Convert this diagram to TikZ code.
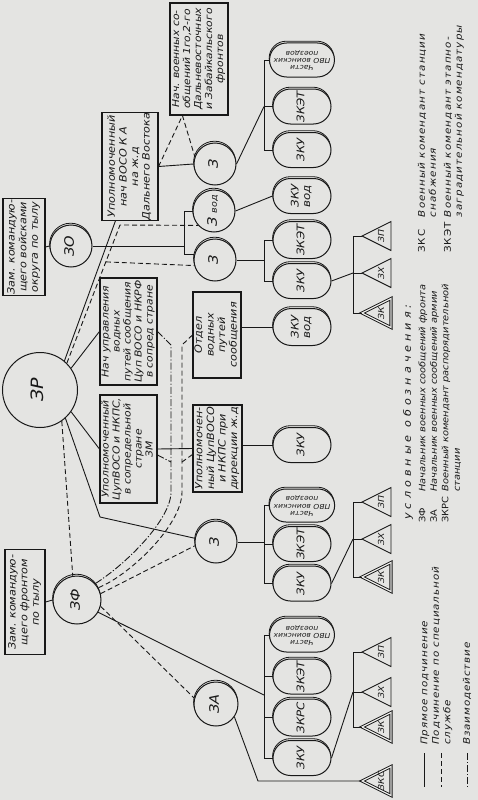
\documentclass[tikz,border=0pt]{standalone}
\usepackage{fontspec}
\setmainfont{DejaVu Sans}[ItalicFont={DejaVu Sans Oblique}, FakeStretch=1.12]
\usepackage{graphicx}
\usetikzlibrary{shapes.misc, calc}
\definecolor{paper}{RGB}{228, 228, 226}
\definecolor{ink}{RGB}{24, 24, 24}

% labels reading upwards, and upside down
\newcommand{\vt}[1]{\rotatebox{90}{\begin{tabular}{@{}c@{}}#1\end{tabular}}}
\newcommand{\vtflip}[1]{\rotatebox{180}{\begin{tabular}{@{}c@{}}#1\end{tabular}}}

\tikzset{
  box/.style={draw=ink, line width=1.1pt, fill=paper, inner sep=0pt, text=ink, font=\itshape\fontsize{10}{11.6}\selectfont},
  box5/.style={box, font=\itshape\fontsize{9.6}{11}\selectfont},
  rim/.style={preaction={draw=ink, line width=0.8pt, transform canvas={xshift=-0.4pt, yshift=1.8pt}}},
  stn/.style={circle, draw=ink, line width=1pt, fill=paper, inner sep=0pt, minimum size=42pt, text=ink, font=\itshape\fontsize{13}{14}\selectfont},
  stnr/.style={stn, rim},
  pill/.style={rounded rectangle, draw=ink, line width=1pt, fill=paper, inner sep=0pt, minimum width=58pt, minimum height=35pt, rim, text=ink, font=\itshape\fontsize{10.5}{11.5}\selectfont},
  pvo/.style={pill, font=\itshape\fontsize{6.8}{7.4}\selectfont},
  trisign/.style={draw=ink, line width=0.9pt, fill=paper, line join=miter},
  tridbl/.style={trisign, double=paper, double distance=1.3pt},
  direct/.style={draw=ink, line width=0.9pt},
  spec/.style={draw=ink, line width=0.9pt, dash pattern=on 5pt off 3pt},
  inter/.style={draw=ink, line width=0.9pt, dash pattern=on 7pt off 2pt on 1.2pt off 2pt},
  key/.style={anchor=south west, inner sep=0pt, text=ink, font=\itshape\fontsize{8.8}{11.5}\selectfont},
}

\begin{document}
\begin{tikzpicture}[x=1pt, y=-1pt]
    \useasboundingbox (0,0) rectangle (478,800);
    \fill[paper] (0,0) rectangle (478,800);

    % staff boxes
    \node[box5, minimum width=58pt, minimum height=112pt] (hq) at (199,59)
        {\vt{Нач. военных со-\\общений 1го,2-го\\Дальневосточных\\и Забайкальского\\фронтов}};
    \node[box, minimum width=56pt, minimum height=107pt] (dvo) at (130,166.5)
        {\vt{Уполномоченный\\нач ВОСО К А\\на ж.д\\Дальнего Востока}};
    \node[box, minimum width=42pt, minimum height=97pt] (zamo) at (24,247)
        {\vt{Зам. командую-\\щего войсками\\округа по тылу}};
    \node[box5, minimum width=57pt, minimum height=107pt] (wpath) at (128.5,331.5)
        {\vt{Нач управления\\водных\\путей сообщения\\Цуп ВОСО и НКРФ\\в сопред стране}};
    \node[box, minimum width=48pt, minimum height=86pt] (wdept) at (217,335)
        {\vt{Отдел\\водных\\путей\\сообщения}};
    \node[box5, minimum width=57pt, minimum height=108pt] (mzm) at (128.5,449)
        {\vt{Уполномоченный\\ЦупВОСО и НКПС,\\в сопредельной\\стране\\ЗМ}};
    \node[box, minimum width=49pt, minimum height=87pt] (mdir) at (217.5,448.5)
        {\vt{Уполномочен-\\ный ЦупВОСО\\и НКПС при\\дирекции ж.д}};
    \node[box, minimum width=40pt, minimum height=105pt] (zamf) at (25,602)
        {\vt{Зам. командую-\\щего фронтом\\по тылу}};

    % chiefs of military communications
    \node[stn, minimum size=75pt, font=\itshape\fontsize{17}{18}\selectfont] (zr) at (40,390) {\vt{ЗР}};
    \node[stnr] (zo) at (71,246) {\vt{ЗО}};
    \node[stnr] (k1) at (215,164) {\vt{З}};
    \node[stnr] (kv) at (214,211) {\vt{З {\fontsize{8.5}{8.5}\selectfont вод}}};
    \node[stnr] (k2) at (215,260) {\vt{З}};
    \node[stnr] (k3) at (216,542) {\vt{З}};
    \node[stnr, minimum size=48pt] (zf) at (77,600) {\vt{ЗФ}};
    \node[stnr, minimum size=44pt] (za) at (216,704) {\vt{ЗА}};

    % commandants
    \node[pvo, minimum height=34pt] (p1) at (302,60) {\vtflip{Части\\ПВО воинских\\поездов}};
    \node[pill] (p2) at (302,106.5) {\vt{ЗКЭТ}};
    \node[pill] (p3) at (302,150) {\vt{ЗКУ}};
    \node[pill] (p4) at (302,196) {\vt{ЗКУ\\вод}};
    \node[pill, minimum height=37pt] (p5) at (302,240) {\vt{ЗКЭТ}};
    \node[pill] (p6) at (302,281) {\vt{ЗКУ}};
    \node[pill, minimum height=37pt] (p7) at (302,327) {\vt{ЗКУ\\вод}};
    \node[pill] (p8) at (302,445) {\vt{ЗКУ}};
    \node[pvo, minimum height=33pt] (p9) at (302,505.5) {\vtflip{Части\\ПВО воинских\\поездов}};
    \node[pill] (p10) at (302,544) {\vt{ЗКЭТ}};
    \node[pill] (p11) at (302,583.5) {\vt{ЗКУ}};
    \node[pvo, minimum height=34pt] (p12) at (302,635) {\vtflip{Части\\ПВО воинских\\поездов}};
    \node[pill] (p13) at (302,676.5) {\vt{ЗКЭТ}};
    \node[pill, minimum height=37pt] (p14) at (302,717.5) {\vt{ЗКРС}};
    \node[pill] (p15) at (302,758) {\vt{ЗКУ}};

    % triangles, apex to the left
    \foreach \n/\y/\t/\s in {u1/236/ЗП/trisign, u2/273/ЗХ/trisign, u3/313/ЗК/tridbl,
        m1/502/ЗП/trisign, m2/539/ЗХ/trisign, m3/577/ЗК/tridbl,
        l1/652/ЗП/trisign, l2/692/ЗХ/trisign, l3/727/ЗК/tridbl, l4/781/ЗКС/tridbl}{
      \coordinate (t\n) at (362,\y);
      \draw[\s] (t\n) -- ++(29,-14.5) -- ++(0,29) -- cycle;
      \node[inner sep=0pt, text=ink, font=\itshape\fontsize{8.3}{8.5}\selectfont] (n\n) at (381,\y) {\rotatebox{90}{\t}};
    }

    % bracket lines and bends
    \coordinate (bx) at (264,0);
    \coordinate (tbx) at (353,0);
    \coordinate (zob) at (185,246);
    \coordinate (tr1) at (120,225);
    \coordinate (bend) at (100,517);
    \coordinate (fz) at (264,695);
    \coordinate (zab) at (258,781);
    \coordinate (fi1) at (171,345);
    \coordinate (fi2) at (171,492);
    \coordinate (fi5) at (171,462);
    \coordinate (fs1) at (182,345);
    \coordinate (fs2) at (182,492);
    \coordinate (fs5) at (182,462);

    % direct subordination
    \draw[direct] (zamo.east) -- (zo.west);
    \draw[direct] (zamf.east) -- (zf.west);
    \draw[direct] (zr.50) -- ($(dvo.south west)+(14,0)$);
    \draw[direct] (zr.35) -- (wpath.west);
    \draw[direct] (zr.-35) -- (mzm.west);
    \draw[direct] (zr.-48) -- (bend) -- (k3.170);
    \draw[direct] (zo.east) -- (zob);
    \draw[direct] (kv.west) -- ++(-8,0) |- (k2.165);
    \draw[direct] (dvo.east) -- (k1.west);
    \draw[direct] (mzm.east) -- (mdir.west);
    \draw[direct] (p1.west) -- (p1.west -| bx) |- (p3.west);
    \draw[direct] (p2.west) -- (p2.west -| bx);
    \draw[direct] (k1.east) -- (p2.west -| bx);
    \draw[direct] (kv.east) -- (p4.west);
    \draw[direct] (p5.west) -- (p5.west -| bx) |- (p6.west);
    \draw[direct] (k2.east) -- (k2.east -| bx);
    \draw[direct] (wdept.east |- p7.west) -- (p7.west);
    \draw[direct] (mdir.east |- p8.west) -- (p8.west);
    \draw[direct] (p9.west) -- (p9.west -| bx) |- (p11.west);
    \draw[direct] (p10.west) -- (p10.west -| bx);
    \draw[direct] (k3.east) -- (k3.east -| bx);
    \draw[direct] (p12.west) -- (p12.west -| bx) |- (p15.west);
    \draw[direct] (p13.west) -- (p13.west -| bx);
    \draw[direct] (p14.west) -- (p14.west -| bx);
    \draw[direct] (zf.-30) -- (fz);
    \draw[direct] (za.-35) -- (zab) -- (tl4);
    \draw[direct] (tu1) -- (tu1 -| tbx) |- (tu3);
    \draw[direct] (tu2) -- (tu2 -| tbx);
    \draw[direct] (p6.east) -- (tu2 -| tbx);
    \draw[direct] (tm1) -- (tm1 -| tbx) |- (tm3);
    \draw[direct] (tm2) -- (tm2 -| tbx);
    \draw[direct] (p11.east) -- (tm2 -| tbx);
    \draw[direct] (tl1) -- (tl1 -| tbx) |- (tl3);
    \draw[direct] (tl2) -- (tl2 -| tbx);
    \draw[direct] (p15.east) -- (tl2 -| tbx);

    % special service
    \draw[spec] (zr.45) -- (tr1) -- (kv.222);
    \draw[spec] ($(zr.45)!0.733!(tr1)$) -- (k2.195);
    \draw[spec] (dvo.east) -- ($(hq.south west)+(13,0)$) -- (k1.160);
    \draw[spec] (zr.-55) -- (zf.100);
    \draw[spec] (wdept.west) -- (fs1) -- (fs2) .. controls (182,525) and (130,575) .. (zf.30);
    \draw[spec] ($(mdir.west)+(0,6)$) -- (fs5);
    \draw[spec] (zf.15) -- (k3.190);
    \draw[spec] (zf.-15) -- (za.165);

    % interaction
    \draw[inter] (wpath.east) -- (fi1) -- (fi2) .. controls (171,520) and (125,565) .. (zf.42);
    \draw[inter] ($(mzm.east)+(0,6)$) -- (fi5);

    % legend
    \node[text=ink, font=\itshape\fontsize{10}{12}\selectfont\addfontfeature{LetterSpace=40}] (lhead) at (408,412)
        {\rotatebox{90}{условные обозначения:}};
    \node[key] (lposts) at (417,523)
        {\rotatebox{90}{\begin{tabular}{@{}l@{\hspace{5pt}}l@{}}\upshape ЗФ & Начальник военных сообщений фронта\\
         \upshape ЗА & Начальник военных сообщений армии\\
         \upshape ЗКРС & Военный комендант распорядительной\\ & станции\end{tabular}}};
    \node[key, font=\itshape\fontsize{9.2}{11}\selectfont\addfontfeature{LetterSpace=12}] (lcomm) at (417,253)
        {\rotatebox{90}{\begin{tabular}{@{}l@{\hspace{5pt}}l@{}}\upshape ЗКС & Военный комендант станции\\ & снабжения\\[4pt]
         \upshape ЗКЭТ & Военный комендант этапно-\\ & заградительной комендатуры\end{tabular}}};
    \node[key, font=\itshape\fontsize{9.2}{11.5}\selectfont\addfontfeature{LetterSpace=10}] (llines) at (419,745)
        {\rotatebox{90}{\begin{tabular}{@{}l@{}}Прямое подчинение\\Подчинение по специальной\\службе\\[8pt]Взаимодействие\end{tabular}}};
    \coordinate (s1a) at (424.5,753); \coordinate (s1b) at (424.5,787);
    \coordinate (s2a) at (441,753); \coordinate (s2b) at (441,787);
    \coordinate (s3a) at (467,753); \coordinate (s3b) at (467,787);
    \draw[direct] (s1a) -- (s1b);
    \draw[spec] (s2a) -- (s2b);
    \draw[inter] (s3a) -- (s3b);
\end{tikzpicture}
\end{document}
